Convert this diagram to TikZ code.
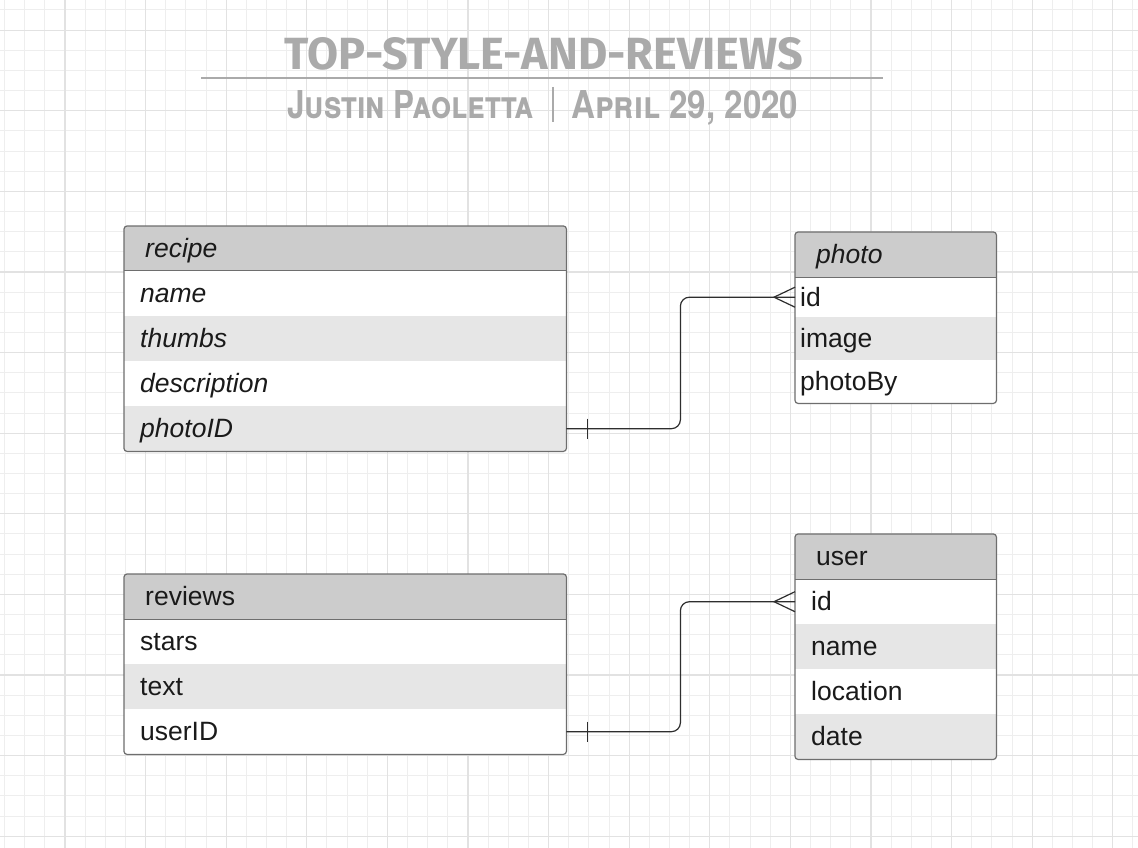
\documentclass[tikz,border=0pt]{standalone}
\usepackage{fontspec}
\setmainfont{Liberation Sans}
\newfontfamily\titlefont{Fira Sans}
\newfontfamily\subfont{TeX Gyre Heros}[Letters=SmallCaps]
\usetikzlibrary{calc}
\definecolor{gridminor}{HTML}{EEEEEE}
\definecolor{gridmajor}{HTML}{E2E2E2}
\definecolor{hdr}{HTML}{CCCCCC}
\definecolor{alt}{HTML}{E6E6E6}
\definecolor{edge}{HTML}{6E6E6E}
\definecolor{ttl}{HTML}{AAAAAA}
\definecolor{ink}{HTML}{1A1A1A}
\definecolor{conncol}{HTML}{2E2E2E}
\tikzset{
  erow/.style={rectangle, anchor=north west, inner ysep=0pt, align=left,
    text height=20pt, text depth=2pt, text=ink,
    font=\fontsize{26.5}{30}\selectfont},
  tblborder/.style={draw=edge, line width=1.2pt, rounded corners=3pt},
  hdrline/.style={draw=edge, line width=1.2pt},
  conn/.style={draw=conncol, line width=1.2pt},
  ttltext/.style={inner sep=0pt, text=ttl},
}
\begin{document}
\begin{tikzpicture}[x=1pt,y=-1pt]
\useasboundingbox (0,0) rectangle (1138,848);
\fill[white] (0,0) rectangle (1138,848);
% grid
\foreach \k in {0,...,56} {
  \pgfmathsetmacro\xx{4.5+20.15*\k}
  \draw[gridminor, line width=1pt] (\xx,0) -- (\xx,848);
}
\foreach \k in {0,...,41} {
  \pgfmathsetmacro\yy{10+20.15*\k}
  \draw[gridminor, line width=1pt] (0,\yy) -- (1138,\yy);
}
\foreach \k in {3,7,...,55} {
  \pgfmathsetmacro\xx{4.5+20.15*\k}
  \draw[gridmajor, line width=1.2pt] (\xx,0) -- (\xx,848);
}
\foreach \k in {1,5,...,41} {
  \pgfmathsetmacro\yy{10+20.15*\k}
  \draw[gridmajor, line width=1.2pt] (0,\yy) -- (1138,\yy);
}

% title
\node[ttltext] (title) at (544,54) {\resizebox{518pt}{32pt}{\titlefont\bfseries TOP-STYLE-AND-REVIEWS}};
\coordinate (ruleL) at (201,78.5);
\coordinate (ruleR) at (883,78.5);
\draw[ttl, line width=2pt] (ruleL) -- (ruleR);
\node[ttltext, anchor=base west] (author) at (287,118) {\resizebox{247pt}{28pt}{\subfont\bfseries Justin Paoletta}};
\node[ttltext, anchor=base west] (date) at (571,118) {\resizebox{227pt}{28pt}{\subfont\bfseries April 29, 2020}};
\coordinate (barT) at (553,87);
\coordinate (barB) at (553,122);
\draw[ttl, line width=1.5pt] (barT) -- (barB);

% recipe table
\begin{scope}
\clip[rounded corners=3pt] (124,226) rectangle (566,451);
\node[erow, fill=hdr, minimum height=44pt, inner xsep=21pt, text width=400pt] (recipe-h) at (124,226) {\itshape recipe};
\node[erow, fill=white, minimum height=46pt, inner xsep=16pt, text width=410pt] (recipe-name) at (124,270) {\itshape name};
\node[erow, fill=alt, minimum height=45pt, inner xsep=16pt, text width=410pt] (recipe-thumbs) at (124,316) {\itshape thumbs};
\node[erow, fill=white, minimum height=45pt, inner xsep=16pt, text width=410pt] (recipe-desc) at (124,361) {\itshape description};
\node[erow, fill=alt, minimum height=45pt, inner xsep=16pt, text width=410pt] (recipe-photoID) at (124,406) {\itshape photoID};
\end{scope}
\draw[hdrline] (recipe-h.south west) -- (recipe-h.south east);
\draw[tblborder] (recipe-h.north west) rectangle (recipe-photoID.south east);

% photo table
\begin{scope}
\clip[rounded corners=3pt] (795,232) rectangle (996,403);
\node[erow, fill=hdr, minimum height=45pt, inner xsep=21pt, text width=159pt] (photo-h) at (795,232) {\itshape photo};
\node[erow, fill=white, minimum height=40pt, inner xsep=5pt, text width=191pt] (photo-id) at (795,277) {id};
\node[erow, fill=alt, minimum height=43pt, inner xsep=5pt, text width=191pt] (photo-image) at (795,317) {image};
\node[erow, fill=white, minimum height=43pt, inner xsep=5pt, text width=191pt] (photo-by) at (795,360) {photoBy};
\end{scope}
\draw[hdrline] (photo-h.south west) -- (photo-h.south east);
\draw[tblborder] (photo-h.north west) rectangle (photo-by.south east);

% reviews table
\begin{scope}
\clip[rounded corners=3pt] (124,574) rectangle (566,754);
\node[erow, fill=hdr, minimum height=45pt, inner xsep=21pt, text width=400pt] (reviews-h) at (124,574) {reviews};
\node[erow, fill=white, minimum height=45pt, inner xsep=16pt, text width=410pt] (reviews-stars) at (124,619) {stars};
\node[erow, fill=alt, minimum height=45pt, inner xsep=16pt, text width=410pt] (reviews-text) at (124,664) {text};
\node[erow, fill=white, minimum height=45pt, inner xsep=16pt, text width=410pt] (reviews-userID) at (124,709) {userID};
\end{scope}
\draw[hdrline] (reviews-h.south west) -- (reviews-h.south east);
\draw[tblborder] (reviews-h.north west) rectangle (reviews-userID.south east);

% user table
\begin{scope}
\clip[rounded corners=3pt] (795,534) rectangle (996,759);
\node[erow, fill=hdr, minimum height=45pt, inner xsep=21pt, text width=159pt] (user-h) at (795,534) {user};
\node[erow, fill=white, minimum height=45pt, inner xsep=16pt, text width=169pt] (user-id) at (795,579) {id};
\node[erow, fill=alt, minimum height=45pt, inner xsep=16pt, text width=169pt] (user-name) at (795,624) {name};
\node[erow, fill=white, minimum height=45pt, inner xsep=16pt, text width=169pt] (user-location) at (795,669) {location};
\node[erow, fill=alt, minimum height=45pt, inner xsep=16pt, text width=169pt] (user-date) at (795,714) {date};
\end{scope}
\draw[hdrline] (user-h.south west) -- (user-h.south east);
\draw[tblborder] (user-h.north west) rectangle (user-date.south east);

% connectors
\draw[conn, rounded corners=9pt] (recipe-photoID.east) -- ++(114,0) |- (photo-id.west);
\draw[conn] ($(recipe-photoID.east)+(21,-10)$) -- ($(recipe-photoID.east)+(21,10)$);
\draw[conn] ($(photo-id.west)+(0,-10)$) -- ($(photo-id.west)+(-21,0)$) -- ($(photo-id.west)+(0,10)$);

\draw[conn, rounded corners=9pt] (reviews-userID.east) -- ++(114,0) |- (user-id.west);
\draw[conn] ($(reviews-userID.east)+(21,-10)$) -- ($(reviews-userID.east)+(21,10)$);
\draw[conn] ($(user-id.west)+(0,-10)$) -- ($(user-id.west)+(-21,0)$) -- ($(user-id.west)+(0,10)$);
\end{tikzpicture}
\end{document}
